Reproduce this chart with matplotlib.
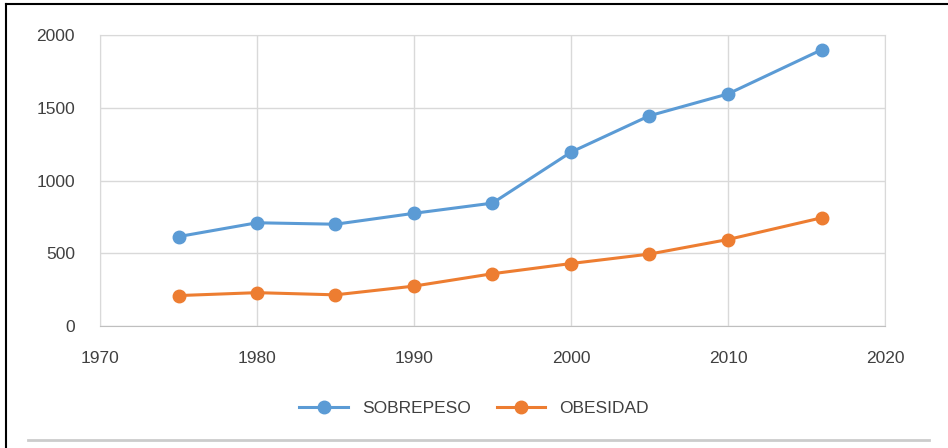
import matplotlib.pyplot as plt
from matplotlib.lines import Line2D

# Datos
anios = [1975, 1980, 1985, 1990, 1995, 2000, 2005, 2010, 2016]
sobrepeso = [615, 710, 700, 775, 845, 1195, 1445, 1595, 1900]
obesidad = [210, 230, 215, 275, 360, 430, 495, 595, 745]

plt.rcParams['font.family'] = ['Liberation Sans', 'DejaVu Sans']

fig = plt.figure(figsize=(9.48, 4.48), dpi=100)
ax = fig.add_axes([0.1055, 0.272, 0.828, 0.65])

azul = '#5B9BD5'
naranja = '#ED7D31'

ax.plot(anios, sobrepeso, color=azul, linewidth=2.2, marker='o', markersize=9, label='SOBREPESO')
ax.plot(anios, obesidad, color=naranja, linewidth=2.2, marker='o', markersize=9, label='OBESIDAD')

ax.set_xlim(1970, 2020)
ax.set_ylim(0, 2000)
ax.set_xticks(range(1970, 2021, 10))
ax.set_yticks(range(0, 2001, 500))
ax.grid(True, color='#d9d9d9', linewidth=1)
ax.set_axisbelow(True)
for s in ['top', 'right', 'left']:
    ax.spines[s].set_color('#d9d9d9')
ax.spines['bottom'].set_color('#bfbfbf')
ax.tick_params(length=0, labelsize=12.5, colors='#404040')
ax.tick_params(axis='x', pad=18)
ax.tick_params(axis='y', pad=18)

leg = fig.legend(loc='center', bbox_to_anchor=(0.5, 0.088), ncol=2, frameon=False,
                 fontsize=12.5, handlelength=2.8, columnspacing=1.5)
for t in leg.get_texts():
    t.set_color('#404040')

# marco de la imagen
fig.add_artist(Line2D([0.006, 0.006], [0.0, 0.99], color='black', linewidth=1.5))
fig.add_artist(Line2D([0.006, 1.0], [0.99, 0.99], color='black', linewidth=1.5))
fig.add_artist(Line2D([0.03, 0.98], [0.017, 0.017], color='#cccccc', linewidth=2))

fig.savefig('out.png', dpi=100)
